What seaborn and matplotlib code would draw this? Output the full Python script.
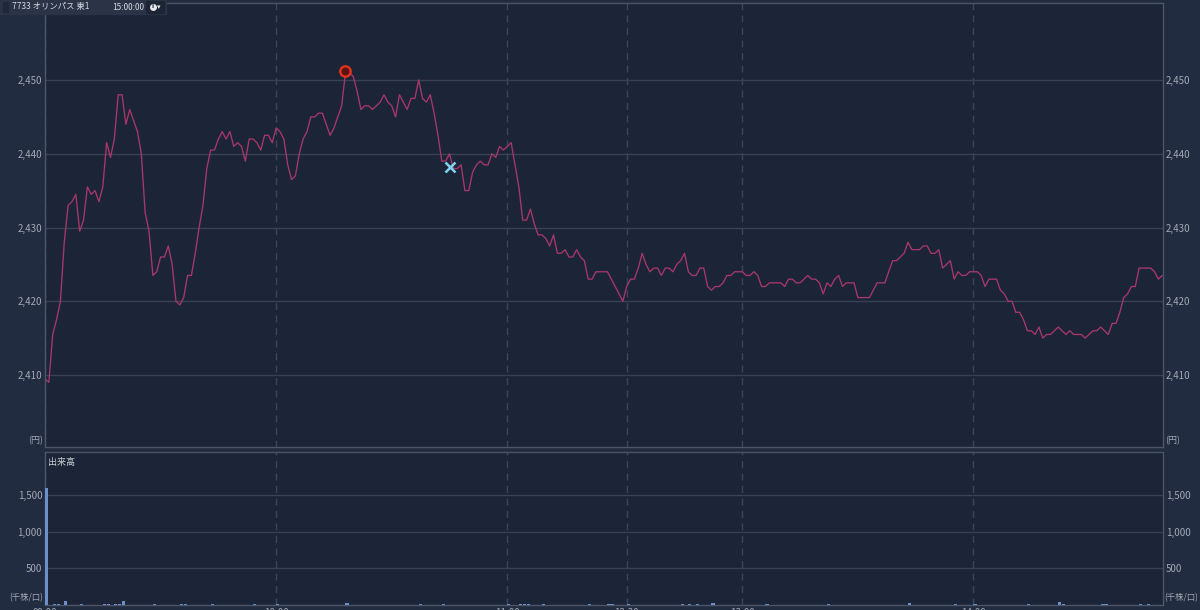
import numpy as np
import pandas as pd
import seaborn as sns
import matplotlib
matplotlib.use('Agg')
import matplotlib.pyplot as plt
from matplotlib.patches import Rectangle
from matplotlib.lines import Line2D
from matplotlib.ticker import FuncFormatter

# price per minute, morning session 09:00-11:30
price_am = [
    2409.5, 2409.0, 2415.5, 2417.5, 2420.0, 2428.0, 2433.0, 2433.5, 2434.5, 2429.5,
    2431.0, 2435.5, 2434.5, 2435.0, 2433.5, 2435.5, 2441.5, 2439.5, 2442.0, 2448.0,
    2448.0, 2444.0, 2446.0, 2444.5, 2443.0, 2440.0, 2432.0, 2429.5, 2423.5, 2424.0,
    2426.0, 2426.0, 2427.5, 2425.0, 2420.0, 2419.5, 2420.5, 2423.5, 2423.5, 2426.5,
    2430.0, 2433.0, 2438.0, 2440.5, 2440.5, 2442.0, 2443.0, 2442.0, 2443.0, 2441.0,
    2441.5, 2441.0, 2439.0, 2442.0, 2442.0, 2441.5, 2440.5, 2442.5, 2442.5, 2441.5,
    2443.5, 2443.0, 2442.0, 2438.5, 2436.5, 2437.0, 2440.0, 2442.0, 2443.0, 2445.0,
    2445.0, 2445.5, 2445.5, 2444.0, 2442.5, 2443.5, 2445.0, 2446.5, 2451.0, 2451.0,
    2450.5, 2448.5, 2446.0, 2446.5, 2446.5, 2446.0, 2446.5, 2447.0, 2448.0, 2447.0,
    2446.5, 2445.0, 2448.0, 2447.0, 2446.0, 2447.5, 2447.5, 2450.0, 2447.5, 2447.0,
    2448.0, 2445.5, 2442.5, 2439.0, 2439.0, 2440.0, 2438.0, 2438.0, 2438.5, 2435.0,
    2435.0, 2437.5, 2438.5, 2439.0, 2438.5, 2438.5, 2440.0, 2439.5, 2441.0, 2440.5,
    2441.0, 2441.5, 2438.5, 2435.5, 2431.0, 2431.0, 2432.5, 2430.5, 2429.0, 2429.0,
    2428.5, 2427.5, 2429.0, 2426.5, 2426.5, 2427.0, 2426.0, 2426.0, 2427.0, 2426.0,
    2425.5, 2423.0, 2423.0, 2424.0, 2424.0, 2424.0, 2424.0, 2423.0, 2422.0, 2421.0,
    2420.0,
]
# afternoon session from 12:30
price_pm = [
    2422.0, 2423.0, 2423.0, 2424.5, 2426.5, 2425.0, 2424.0, 2424.5, 2424.5, 2423.5,
    2424.5, 2424.5, 2424.0, 2425.0, 2425.5, 2426.5, 2424.0, 2423.5, 2423.5, 2424.5,
    2424.5, 2422.0, 2421.5, 2422.0, 2422.0, 2422.5, 2423.5, 2423.5, 2424.0, 2424.0,
    2424.0, 2423.5, 2423.5, 2424.0, 2423.5, 2422.0, 2422.0, 2422.5, 2422.5, 2422.5,
    2422.5, 2422.0, 2423.0, 2423.0, 2422.5, 2422.5, 2423.0, 2423.5, 2423.0, 2423.0,
    2422.5, 2421.0, 2422.5, 2422.0, 2423.0, 2423.5, 2422.0, 2422.5, 2422.5, 2422.5,
    2420.5, 2420.5, 2420.5, 2420.5, 2421.5, 2422.5, 2422.5, 2422.5, 2424.0, 2425.5,
    2425.5, 2426.0, 2426.5, 2428.0, 2427.0, 2427.0, 2427.0, 2427.5, 2427.5, 2426.5,
    2426.5, 2427.0, 2424.5, 2425.0, 2425.5, 2423.0, 2424.0, 2423.5, 2423.5, 2424.0,
    2424.0, 2424.0, 2423.5, 2422.0, 2423.0, 2423.0, 2423.0, 2421.5, 2421.0, 2420.0,
    2420.0, 2418.5, 2418.5, 2417.5, 2416.0, 2416.0, 2415.5, 2416.5, 2415.0, 2415.5,
    2415.5, 2416.0, 2416.5, 2416.0, 2415.5, 2416.0, 2415.5, 2415.5, 2415.5, 2415.0,
    2415.5, 2416.0, 2416.0, 2416.5, 2416.0, 2415.5, 2417.0, 2417.0, 2418.5, 2420.5,
    2421.0, 2422.0, 2422.0, 2424.5, 2424.5, 2424.5, 2424.5, 2424.0, 2423.0, 2423.5,
]

cross_time = '10:45'
cross_price = 2438.2

# volume (thousand shares), only the visible bars
vol_times = ['09:00', '09:02', '09:03', '09:05', '09:09', '09:15', '09:16', '09:18', '09:19', '09:20',
             '09:28', '09:35', '09:36', '09:43', '09:54', '10:00', '10:18', '10:37', '10:43', '11:00',
             '11:03', '11:04', '11:05', '11:09', '11:21', '11:26', '11:27', '12:30', '12:44', '12:46',
             '12:48', '12:52', '13:06', '13:22', '13:43', '13:55', '14:00', '14:14', '14:22', '14:23',
             '14:33', '14:34', '14:43', '14:45']
vol_values = [1590, 15, 15, 60, 10, 10, 10, 20, 20, 60,
              10, 12, 12, 15, 12, 15, 25, 15, 15, 15,
              15, 15, 15, 12, 12, 15, 15, 20, 12, 12,
              12, 25, 20, 12, 22, 15, 12, 12, 45, 15,
              15, 15, 18, 12]

tick_times = ['09:00', '10:00', '11:00', '12:30', '13:00', '14:00']
price_ticks = [2410, 2420, 2430, 2440, 2450]
vol_ticks = [500, 1000, 1500]

am_times = pd.date_range('2020-01-06 09:00', periods=len(price_am), freq='min').strftime('%H:%M')
pm_times = pd.date_range('2020-01-06 12:30', periods=len(price_pm), freq='min').strftime('%H:%M')
times = list(am_times) + list(pm_times)
pos_of = {t: i for i, t in enumerate(times)}

df = pd.DataFrame({'pos': range(len(times)), 'time': times, 'price': price_am + price_pm})

sns.set_style('dark')
plt.rcParams['font.family'] = ['Noto Sans CJK JP', 'DejaVu Sans']

BG = '#222c41'
AXBG = '#1b2537'
GRID = '#384253'
SPINE = '#4c5668'
TXT = '#a3a9b3'

fig = plt.figure(figsize=(12, 6.1), dpi=100, facecolor=BG)
ax = fig.add_axes([45 / 1200, 1 - 447 / 610, 1118 / 1200, 444 / 610])
ax2 = fig.add_axes([45 / 1200, 5 / 610, 1118 / 1200, 153 / 610])

for a in (ax, ax2):
    a.set_facecolor(AXBG)
    for s in a.spines.values():
        s.set_color(SPINE)
        s.set_linewidth(1)
    a.set_xticks([pos_of[t] for t in tick_times])
    a.xaxis.grid(True, color='#3a4557', lw=1, ls=(0, (5, 4)))
    a.yaxis.grid(True, color=GRID, lw=1, ls='-')
    a.set_axisbelow(True)
    a.tick_params(axis='both', length=0, labelsize=7, labelcolor=TXT, pad=2,
                  labelleft=True, labelright=True)
    a.yaxis.set_major_formatter(FuncFormatter(lambda v, p: f'{int(v):,}'))
    a.set_xlim(0, 290.2)

sns.lineplot(data=df, x='pos', y='price', ax=ax, color='#a8376b', linewidth=0.95)
ax.set_ylim(2400.24, 2460.44)
ax.set_yticks(price_ticks)
ax.set_xlabel('')
ax.set_ylabel('')
ax.tick_params(axis='x', labelbottom=False)

top = df.loc[df['price'].idxmax()]
ax.plot(top['pos'], top['price'] + 0.2, 'o', ms=7.5, mfc='#5c1410', mec='#e0321c', mew=1.7, zorder=5)
ax.plot(pos_of[cross_time], cross_price, 'x', ms=6.5, mew=1.8, color='#7fd3ee', zorder=5)

ax.text(-0.002, 0.014, '(円)', transform=ax.transAxes, ha='right', va='center', fontsize=6.5, color=TXT)
ax.text(1.002, 0.014, '(円)', transform=ax.transAxes, ha='left', va='center', fontsize=6.5, color=TXT)

ax2.bar([pos_of[t] for t in vol_times], vol_values, width=0.8, align='edge', color='#6f8fc8',
        edgecolor='none', linewidth=0, zorder=3)
ax2.set_ylim(0, 2085)
ax2.set_yticks(vol_ticks)
ax2.set_xticklabels(tick_times)
ax2.text(0.003, 0.93, '出来高', transform=ax2.transAxes, ha='left', va='center', fontsize=6.5, color='#c8ccd4')
ax2.text(-0.002, 0.045, '(千株/口)', transform=ax2.transAxes, ha='right', va='center', fontsize=6, color=TXT)
ax2.text(1.001, 0.045, '(千株/口)', transform=ax2.transAxes, ha='left', va='center', fontsize=6, color=TXT)

# header strip
fig.patches.append(Rectangle((0, 1 - 14 / 610), 166 / 1200, 14 / 610, transform=fig.transFigure,
                             color='#2b3447', zorder=5))
fig.patches.append(Rectangle((3 / 1200, 1 - 12 / 610), 5 / 1200, 10 / 610, transform=fig.transFigure,
                             color='#1f2838', zorder=6))
fig.patches.append(Rectangle((146 / 1200, 1 - 13 / 610), 18 / 1200, 12 / 610, transform=fig.transFigure,
                             color='#1d2535', zorder=6))
fig.text(12 / 1200, 1 - 7 / 610, '7733 オリンパス 東1', fontsize=6, va='center', color='#d5d9e0', zorder=7)
fig.text(112 / 1200, 1 - 7 / 610, '15:00:00', fontsize=6, va='center', color='#d5d9e0', zorder=7)
fig.add_artist(Line2D([152.5 / 1200], [1 - 7 / 610], marker='o', ms=5, mfc='#e8eaee', mec='none',
                      transform=fig.transFigure, zorder=7))
fig.text(152.5 / 1200, 1 - 7 / 610, 'i', fontsize=4.5, ha='center', va='center', color='#1d2535',
         zorder=8, fontweight='bold', family='DejaVu Sans')
fig.text(157 / 1200, 1 - 7 / 610, '▾', fontsize=5, va='center', color='#e8eaee', zorder=7,
         family='DejaVu Sans')

fig.savefig('out.png', dpi=100, facecolor=BG)
